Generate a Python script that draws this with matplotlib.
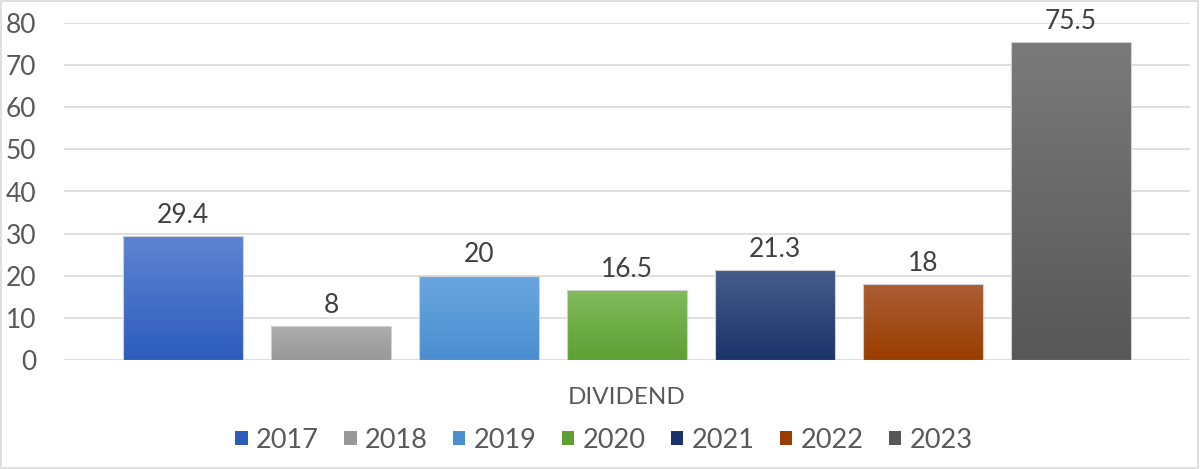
import matplotlib.pyplot as plt
import numpy as np
from matplotlib.colors import LinearSegmentedColormap
from matplotlib.patches import Rectangle

plt.rcParams['font.family'] = ['Lato', 'DejaVu Sans']

category = "DIVIDEND"
years = ['2017', '2018', '2019', '2020', '2021', '2022', '2023']
values = [29.4, 8, 20, 16.5, 21.3, 18, 75.5]
# gradient (top, bottom) for each year, Excel-like
top_colors = ['#5F84D2', '#ADADAD', '#6AA6E0', '#80BB5C', '#465C8A', '#AC5E36', '#7A7A7A']
bot_colors = ['#2D5CBD', '#989898', '#4A8ED0', '#5E9F33', '#1B336A', '#9A3D00', '#575757']

fig = plt.figure(figsize=(12, 4.69), dpi=100)
ax = fig.add_axes([64 / 1200, 109 / 469, 1126 / 1200, 337 / 469])

pitch = 148 / 120
n = len(years)
offsets = (np.arange(n) - (n - 1) / 2) * pitch

bars = ax.bar(offsets, values, width=1.0, color=top_colors, edgecolor='none', zorder=2)
for bar, c_top, c_bot, v in zip(bars, top_colors, bot_colors, values):
    x0, y0 = bar.get_x(), bar.get_y()
    w, h = bar.get_width(), bar.get_height()
    cmap = LinearSegmentedColormap.from_list('g', [c_bot, c_top])
    grad = np.linspace(0, 1, 256).reshape(-1, 1)
    im = ax.imshow(grad, cmap=cmap, aspect='auto', origin='lower',
                   extent=[x0, x0 + w, y0, y0 + h], zorder=3)
    im.set_clip_path(bar)
    ax.add_patch(Rectangle((x0, y0), w, h, fill=False, edgecolor='#d0d0d0',
                           linewidth=0.8, zorder=4))
    ax.text(x0 + w / 2, h + 2.0, f'{v:g}', ha='center', va='bottom',
            fontsize=19, color='#404040', zorder=5)

ax.set_xlim(-1126 / 120 / 2, 1126 / 120 / 2)
ax.set_ylim(0, 80)
ax.set_yticks(range(0, 81, 10))
ax.set_xticks([])
ax.tick_params(axis='y', length=0, pad=20, labelsize=19, labelcolor='#595959')
ax.grid(axis='y', color='#d9d9d9', linewidth=1.2, zorder=0)
for s in ax.spines.values():
    s.set_visible(False)

fig.text(627 / 1200, 1 - 397 / 469, category, ha='center', va='center',
         fontsize=17.5, color='#595959')

handles = [Rectangle((0, 0), 1, 1, facecolor=c, edgecolor='none') for c in bot_colors]
fig.legend(handles, years, loc='center', bbox_to_anchor=(604 / 1200, 1 - 440 / 469),
           ncol=n, frameon=False, fontsize=19.5, labelcolor='#595959',
           handlelength=0.45, handleheight=0.45, handletextpad=0.3, columnspacing=0.95)

fig.add_artist(Rectangle((0.001, 0.002), 0.997, 0.996, transform=fig.transFigure,
                         fill=False, edgecolor='#d9d9d9', linewidth=1.2))

fig.savefig('out.png', dpi=100)
